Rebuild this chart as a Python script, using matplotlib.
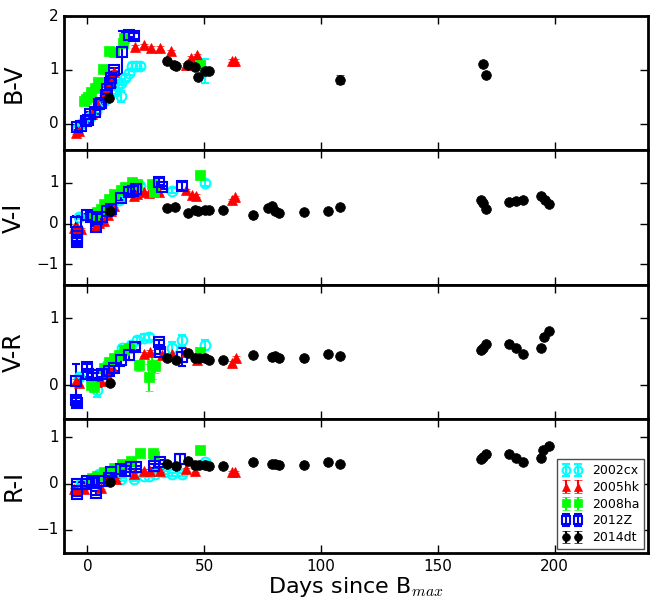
import matplotlib
matplotlib.use('Agg')
import matplotlib.pyplot as plt

# ---- data: phase (days since B max) and colour, per SN per colour index ----
# B-V
bv_02cx_t = [-4.3, -2.1, 1.4, 3.6, 5.7, 7.1, 8.5, 12.1, 12.8, 14.5, 14.2, 16.3, 17.8, 19.2, 20.6, 22.7, 50.4]
bv_02cx = [-0.10, 0.01, 0.14, 0.23, 0.36, 0.42, 0.48, 0.60, 0.70, 0.51, 0.76, 0.85, 0.95, 1.07, 1.07, 1.07, 0.98]
bv_02cx_e = [0.04, 0.04, 0.04, 0.04, 0.04, 0.04, 0.05, 0.05, 0.05, 0.10, 0.05, 0.05, 0.05, 0.05, 0.05, 0.05, 0.23]
bv_05hk_t = [-5.0, -3.5, 2.1, 4.3, 6.8, 8.5, 9.9, 11.4, 20.3, 24.1, 27.1, 31.2, 36.0, 42.3, 44.4, 46.9, 61.8, 63.2]
bv_05hk = [-0.17, -0.14, 0.17, 0.36, 0.51, 0.62, 0.77, 0.96, 1.43, 1.46, 1.41, 1.41, 1.35, 1.09, 1.23, 1.27, 1.17, 1.17]
bv_08ha_t = [-1.4, -0.7, 0.3, 1.7, 3.1, 4.6, 6.8, 9.4, 11.4, 15.3, 15.8, 48.3]
bv_08ha = [0.42, 0.45, 0.50, 0.59, 0.66, 0.77, 1.01, 1.35, 1.33, 1.51, 1.60, 1.10]
bv_12z_t = [-4.3, -2.8, -0.7, 0.3, 1.1, 3.1, 5.0, 6.0, 7.8, 8.5, 9.7, 10.2, 11.6, 14.9, 17.8, 19.9]
bv_12z = [-0.07, -0.05, 0.04, 0.06, 0.17, 0.21, 0.37, 0.39, 0.54, 0.65, 0.76, 0.85, 1.00, 1.33, 1.66, 1.63]
bv_12z_e = [0.04, 0.04, 0.04, 0.04, 0.04, 0.04, 0.04, 0.04, 0.04, 0.04, 0.04, 0.04, 0.04, 0.40, 0.05, 0.05]
bv_14dt_t = [9.4, 34.0, 37.0, 38.0, 43.0, 46.0, 47.3, 50.4, 52.0, 108.0, 169.5, 170.4]
bv_14dt = [0.47, 1.17, 1.10, 1.08, 1.10, 1.06, 0.87, 0.98, 0.98, 0.82, 1.11, 0.90]
bv_14dt_e = [0.02, 0.02, 0.02, 0.02, 0.02, 0.02, 0.02, 0.02, 0.02, 0.08, 0.03, 0.03]

# V-I
vi_02cx_t = [-3.5, 13.5, 22.7, 36.2, 50.4]
vi_02cx = [0.16, 0.57, 0.93, 0.81, 1.00]
vi_02cx_e = [0.05, 0.05, 0.05, 0.06, 0.08]
vi_05hk_t = [-5.7, -4.3, -2.8, 3.6, 5.0, 7.1, 8.8, 9.9, 11.4, 19.9, 21.3, 24.1, 26.3, 30.5, 42.3, 44.7, 46.6, 61.8, 63.2]
vi_05hk = [-0.11, -0.09, -0.13, -0.05, 0.01, 0.07, 0.20, 0.32, 0.44, 0.69, 0.73, 0.77, 0.75, 0.77, 0.83, 0.71, 0.69, 0.58, 0.65]
vi_08ha_t = [2.8, 4.3, 5.7, 7.1, 9.2, 11.4, 14.2, 16.3, 19.2, 21.3, 27.7, 28.7, 48.3]
vi_08ha = [0.20, 0.28, 0.36, 0.48, 0.61, 0.73, 0.83, 0.91, 1.02, 0.98, 0.98, 0.77, 1.20]
vi_08ha_e = [0.03, 0.03, 0.03, 0.03, 0.03, 0.03, 0.03, 0.03, 0.03, 0.03, 0.03, 0.10, 0.03]
vi_12z_t = [-5.0, -4.3, -4.3, -4.3, -4.3, 0.0, 1.4, 3.6, 4.3, 6.4, 8.5, 9.9, 14.5, 17.8, 19.6, 21.0, 30.5, 31.9, 40.5]
vi_12z = [0.03, -0.20, -0.30, -0.40, -0.46, 0.20, 0.16, -0.09, 0.11, 0.16, 0.32, 0.36, 0.63, 0.77, 0.81, 0.85, 1.03, 0.89, 0.93]
vi_12z_e = [0.16, 0.04, 0.04, 0.04, 0.04, 0.04, 0.04, 0.04, 0.04, 0.04, 0.04, 0.04, 0.04, 0.04, 0.04, 0.04, 0.08, 0.04, 0.10]
vi_14dt_t = [9.5, 34.1, 37.6, 42.9, 46.2, 47.3, 50.4, 52.1, 58.2, 71.0, 77.1, 79.0, 80.4, 82.1, 92.9, 102.8, 108.0,
             168.5, 169.5, 170.4, 180.4, 183.4, 186.5, 194.3, 195.7, 197.4]
vi_14dt = [0.30, 0.39, 0.42, 0.25, 0.34, 0.30, 0.34, 0.34, 0.34, 0.21, 0.38, 0.43, 0.32, 0.27, 0.29, 0.31, 0.40,
           0.58, 0.50, 0.35, 0.52, 0.55, 0.57, 0.68, 0.57, 0.48]

# V-R
vr_02cx_t = [-3.5, 4.3, 8.5, 14.9, 18.5, 21.3, 24.1, 26.3, 36.2, 40.5, 50.4]
vr_02cx = [0.12, -0.07, 0.30, 0.55, 0.60, 0.67, 0.71, 0.72, 0.56, 0.67, 0.60]
vr_02cx_e = [0.04, 0.10, 0.04, 0.04, 0.04, 0.05, 0.05, 0.05, 0.08, 0.08, 0.08]
vr_05hk_t = [-5.0, -3.5, 4.3, 5.7, 8.5, 10.7, 24.1, 26.9, 31.9, 36.2, 42.3, 46.9, 61.8, 63.6]
vr_05hk = [0.07, 0.03, 0.05, 0.07, 0.17, 0.27, 0.47, 0.50, 0.45, 0.47, 0.50, 0.38, 0.33, 0.40]
vr_08ha_t = [1.4, 2.8, 7.1, 9.2, 11.4, 13.5, 15.6, 17.8, 22.0, 26.3, 27.7, 29.1, 48.3]
vr_08ha = [0.00, -0.03, 0.25, 0.35, 0.40, 0.45, 0.52, 0.55, 0.30, 0.12, 0.30, 0.28, 0.50]
vr_08ha_e = [0.03, 0.03, 0.03, 0.03, 0.03, 0.03, 0.03, 0.03, 0.08, 0.20, 0.20, 0.10, 0.03]
vr_12z_t = [-5.0, -5.0, -4.3, 0.0, 0.3, 2.1, 4.3, 6.4, 9.2, 11.4, 14.5, 17.8, 20.2, 30.5, 31.2, 40.5]
vr_12z = [0.07, -0.22, -0.27, 0.27, 0.17, 0.15, 0.15, 0.17, 0.21, 0.25, 0.37, 0.45, 0.57, 0.64, 0.50, 0.42]
vr_12z_e = [0.25, 0.04, 0.04, 0.04, 0.04, 0.04, 0.04, 0.04, 0.04, 0.04, 0.08, 0.08, 0.04, 0.04, 0.04, 0.13]
vr_14dt_t = [9.5, 34.1, 38.0, 42.9, 46.2, 47.7, 50.4, 52.1, 58.2, 71.0, 79.0, 80.4, 82.1, 92.9, 102.8, 108.0,
             168.5, 169.5, 170.4, 180.4, 183.4, 186.5, 194.3, 195.3, 197.4]
vr_14dt = [0.03, 0.41, 0.38, 0.48, 0.40, 0.40, 0.40, 0.38, 0.38, 0.45, 0.42, 0.43, 0.41, 0.41, 0.47, 0.44,
           0.52, 0.56, 0.61, 0.62, 0.56, 0.47, 0.56, 0.72, 0.81]

# R-I
ri_02cx_t = [-2.8, 5.0, 14.2, 19.9, 24.1, 26.3, 29.1, 32.7, 36.2, 40.5, 50.4]
ri_02cx = [0.02, 0.20, 0.09, 0.09, 0.17, 0.17, 0.20, 0.24, 0.20, 0.20, 0.46]
ri_05hk_t = [-5.7, -4.3, -1.4, 5.7, 8.5, 12.1, 19.9, 24.1, 26.9, 31.2, 42.3, 46.2, 61.8, 63.2]
ri_05hk = [-0.12, -0.16, -0.11, -0.09, 0.06, 0.09, 0.20, 0.28, 0.28, 0.28, 0.31, 0.28, 0.25, 0.25]
ri_08ha_t = [2.1, 4.3, 7.1, 11.4, 14.9, 18.5, 22.4, 28.1, 28.7, 48.3]
ri_08ha = [0.13, 0.17, 0.24, 0.33, 0.42, 0.49, 0.67, 0.67, 0.60, 0.73]
ri_12z_t = [-4.3, -4.3, -4.3, -0.7, 0.0, 2.1, 3.6, 5.0, 7.1, 9.2, 9.9, 14.2, 16.3, 18.5, 20.6, 28.4, 31.2, 39.8]
ri_12z = [-0.01, -0.16, -0.23, -0.01, 0.06, 0.02, -0.20, 0.06, 0.06, 0.13, 0.24, 0.31, 0.28, 0.35, 0.35, 0.38, 0.46, 0.53]
ri_12z_e = [0.04, 0.04, 0.04, 0.04, 0.04, 0.04, 0.04, 0.04, 0.04, 0.04, 0.04, 0.04, 0.04, 0.04, 0.04, 0.04, 0.04, 0.10]
ri_14dt_t = [9.5, 34.1, 38.0, 42.9, 46.2, 47.7, 50.4, 52.1, 58.2, 71.0, 79.0, 80.4, 82.1, 92.9, 102.8, 108.0,
             168.5, 169.5, 170.4, 180.4, 183.4, 186.5, 194.3, 195.0, 197.4]
ri_14dt = [0.04, 0.42, 0.38, 0.49, 0.40, 0.40, 0.40, 0.38, 0.38, 0.46, 0.43, 0.42, 0.41, 0.41, 0.46, 0.43,
           0.53, 0.58, 0.63, 0.63, 0.56, 0.47, 0.56, 0.72, 0.82]

sn_names = ['2002cx', '2005hk', '2008ha', '2012Z', '2014dt']
panel_labels = ['B-V', 'V-I', 'V-R', 'R-I']
panel_ylims = [(-0.5, 2.0), (-1.5, 1.8), (-0.5, 1.5), (-1.5, 1.4)]
panel_yticks = [[0, 1, 2], [-1, 0, 1], [0, 1], [-1, 0, 1]]

# marker style per SN
styles = {
    '2002cx': dict(fmt='o', color='cyan', mfc='none', mec='cyan', mew=1.5),
    '2005hk': dict(fmt='^', color='red', mfc='red', mec='red', mew=0.5),
    '2008ha': dict(fmt='s', color='#00ff00', mfc='#00ff00', mec='#00ff00', mew=0.5),
    '2012Z': dict(fmt='s', color='blue', mfc='none', mec='blue', mew=1.5),
    '2014dt': dict(fmt='o', color='black', mfc='black', mec='black', mew=0.5),
}

panels = [
    [(bv_02cx_t, bv_02cx, bv_02cx_e), (bv_05hk_t, bv_05hk, 0.03), (bv_08ha_t, bv_08ha, 0.03),
     (bv_12z_t, bv_12z, bv_12z_e), (bv_14dt_t, bv_14dt, bv_14dt_e)],
    [(vi_02cx_t, vi_02cx, vi_02cx_e), (vi_05hk_t, vi_05hk, 0.03), (vi_08ha_t, vi_08ha, vi_08ha_e),
     (vi_12z_t, vi_12z, vi_12z_e), (vi_14dt_t, vi_14dt, 0.02)],
    [(vr_02cx_t, vr_02cx, vr_02cx_e), (vr_05hk_t, vr_05hk, 0.03), (vr_08ha_t, vr_08ha, vr_08ha_e),
     (vr_12z_t, vr_12z, vr_12z_e), (vr_14dt_t, vr_14dt, 0.02)],
    [(ri_02cx_t, ri_02cx, 0.03), (ri_05hk_t, ri_05hk, 0.03), (ri_08ha_t, ri_08ha, 0.03),
     (ri_12z_t, ri_12z, ri_12z_e), (ri_14dt_t, ri_14dt, 0.02)],
]

plt.style.use('classic')
plt.rcParams['font.family'] = ['DejaVu Sans']

fig, axes = plt.subplots(4, 1, sharex=True, figsize=(6.6, 6.02), dpi=100, facecolor='white')
fig.subplots_adjust(left=0.097, right=0.982, top=0.973, bottom=0.0814, hspace=0)

for i, ax in enumerate(axes):
    for name, (t, c, e) in zip(sn_names, panels[i]):
        st = styles[name]
        ax.errorbar(t, c, yerr=e, fmt=st['fmt'], color=st['color'], mfc=st['mfc'], mec=st['mec'],
                    mew=st['mew'], ms=7, capsize=3, elinewidth=1.5, capthick=1.5, label=name)
    ax.set_xlim(-10, 240)
    ax.set_ylim(*panel_ylims[i])
    ax.set_yticks(panel_yticks[i])
    ax.set_ylabel(panel_labels[i], fontsize=17)
    ax.yaxis.set_label_coords(-0.065, 0.5)
    ax.tick_params(direction='in', length=6, width=1, labelsize=11, top=True, right=True)
    for sp in ax.spines.values():
        sp.set_linewidth(2)
    ax.set_facecolor('white')

axes[-1].set_xticks([0, 50, 100, 150, 200])
axes[-1].set_xlabel('Days since B$_{max}$', fontsize=16, labelpad=1)
leg = axes[-1].legend(loc='lower right', numpoints=2, fontsize=9, borderaxespad=0.3,
                      handlelength=1.6, labelspacing=0.3, markerscale=0.8, borderpad=0.4)
leg.get_frame().set_edgecolor('0.3')

fig.savefig('out.png', dpi=100, facecolor='white')
